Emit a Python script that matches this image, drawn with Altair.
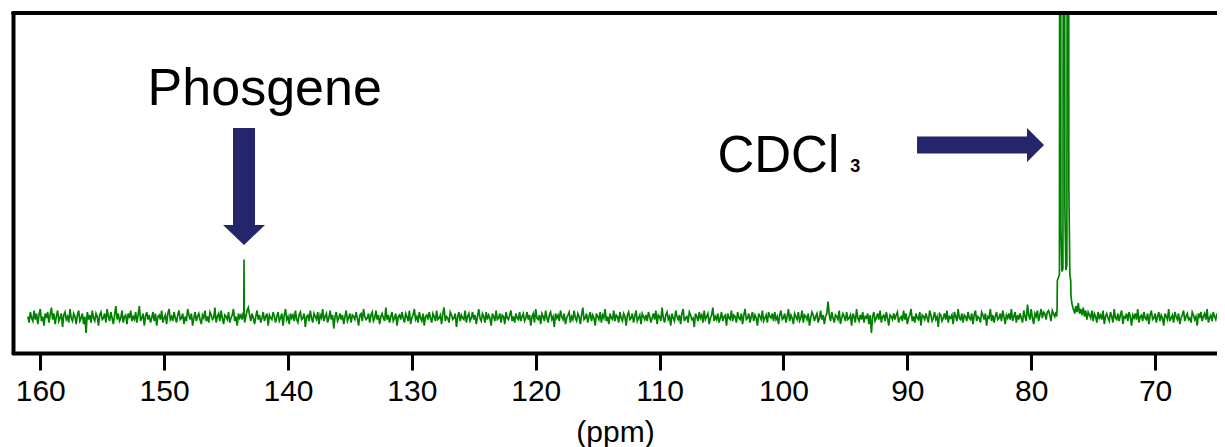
import altair as alt
import pandas as pd

# ---- data (ppm, intensity in baseline-relative units) ----
STEP = 0.1
n161 = [1, -3, 4, 0, -2, 5, -1, 3, -4, 2, 6, -2, 1, -5, 3, 0, 4, -3, 2, 7,
        -1, 3, -4, 1, 5, -2, 0, 3, -6, 2, 4, -1, 1, -3, 6, 0, -2, 3, 1, -4,
        2, 5, -2, 0, 3, -4, 1, -10, 4, -1, 2, -3, 5, 0, -2, 3, 1, -5, 2, 4,
        -1, 0, 3, -3, 6, 1, -2, 4, 0, -4, 2, 8, -1, 3, -2, 0, 5, -3, 1, 2,
        -4, 3, 0, 5, -2, 1, -1, 4, -3, 2, 8, -2, 0, 3, -5, 1, 4, -1, 2, -3]
n151 = [0, 4, -2, 3, -5, 1, 2, -1, 5, -3, 0, 2, -4, 3, 6, -1, 1, -2, 4, 0,
        -3, 2, 5, -1, 0, 3, -4, 1, -2, 6, 2, -1, 3, -5, 0, 4, -2, 1, 3, -1,
        -4, 2, 0, 5, -2, 1, -3, 4, 2, -1, 0, 7, -3, 1, 3, -2, 5, 0, -4, 2,
        1, -1, 4, -3, 0, 2, 6, -2, 1, -5, 3, 0, 2, -1, 4, -3, 1, 5, 7, 2,
        -2, 3, 0, -4, 1, 5, -1, 2, -3, 0, 4, -2, 1, 3, -5, 2, 0, -1, 4, 1]
n141 = [-3, 1, 4, -2, 0, 3, -5, 2, 6, -1, 1, -4, 3, 0, 2, -2, 5, -1, -3, 2,
        4, -1, 0, 3, -6, 1, 2, -2, 5, 0, -3, 3, 1, -1, 4, -4, 2, 0, 6, -2,
        1, 3, -3, 0, 5, -1, 2, -7, 1, 4, -2, 0, 3, -1, 2, -4, 1, 5, -2, 0,
        3, -3, 2, 1, -1, 4, 0, -5, 2, 3, -2, 6, 1, -1, 0, 3, -3, 2, 4, -2,
        0, 5, -1, 2, -4, 1, 3, 0, -2, 7, -1, 2, -3, 1, 4, -2, 0, 3, -5, 1]
n131 = [2, -1, 4, 0, -3, 3, 1, -2, 5, -4, 0, 2, 6, -1, 1, -3, 4, 0, -2, 3,
        -5, 1, 2, -1, 4, 0, -3, 3, 1, -2, 5, -1, 0, 2, -4, 3, 7, -2, 1, 0,
        -3, 4, 2, -1, 0, 3, -6, 1, 4, -2, 2, 0, -1, 5, -3, 1, 3, -2, 0, 4,
        -1, 2, -4, 1, 6, 0, -2, 3, 1, -3, 4, -1, 2, 0, -5, 3, 1, -2, 5, -1,
        0, 3, -3, 2, 1, -4, 4, 0, -1, 2, 5, -2, 1, -3, 3, 0, -1, 4, -2, 1]
n121 = [3, -2, 0, 4, -1, 2, -5, 1, 3, -3, 6, 0, -1, 2, -4, 3, 1, -2, 5, 0,
        -3, 2, 4, -1, 1, -6, 3, 0, 2, -2, 5, 1, -1, 3, -4, 0, 2, 4, -3, 1,
        -1, 5, 0, -2, 3, 1, -4, 2, 7, -1, 0, 3, -3, 1, 4, -2, 2, 0, -5, 3,
        1, -1, 4, -3, 2, 0, 6, -2, 1, -4, 3, 0, -1, 5, -2, 2, 1, -3, 4, 0,
        -2, 3, 1, -5, 2, 4, -1, 0, 3, -3, 1, 5, -2, 0, 2, -4, 3, 1, -1, 2]
n111 = [-2, 4, 1, -3, 0, 3, -1, 5, -4, 2, 1, -2, 7, 0, -3, 2, 4, -1, 1, -5,
        3, 0, -2, 5, 1, -1, 2, -4, 3, 6, -2, 0, 1, -3, 4, 2, -1, 0, -6, 3,
        1, -2, 4, 0, 2, -3, 5, -1, 1, 3, -4, 0, 2, 7, -2, 1, -1, 3, -3, 0,
        4, -2, 1, 2, -5, 3, 0, -1, 5, -2, 2, 1, -3, 4, 0, -1, 3, -4, 2, 6,
        -1, 0, 3, -3, 1, 4, -2, 2, 0, -5, 3, 1, -1, 5, -2, 0, 2, -3, 4, 1]
n101 = [0, 3, -2, 4, -1, 1, -4, 2, 5, -1, 0, 3, -3, 1, 6, -2, 2, 0, -4, 3,
        1, -1, 4, -2, 0, 5, -3, 2, 1, -1, 3, -5, 0, 4, 2, -2, 1, 3, -3, 0,
        5, -1, 2, -4, 1, 3, 11, 2, -2, 4, 0, -3, 2, 1, -1, 5, -4, 0, 3, 1,
        -2, 4, -1, 0, 2, -5, 3, 1, -3, 6, 0, -2, 2, -1, 4, -3, 1, 0, 3, -4,
        2, -10, 1, 4, -2, 0, 3, -1, 5, -3, 1, 2, -2, 4, 0, -5, 2, 1, -1, 3]
n91 = [-1, 2, 4, -3, 0, 1, -2, 5, -1, 3, -4, 0, 2, 6, -2, 1, -3, 3, 0, -1,
       4, -5, 2, 1, -1, 3, 0, -3, 5, 2, -2, 0, 4, -1, 1, -6, 3, 2, -2, 0,
       3, -1, 5, -3, 1, 0, 2, -4, 4, 1, -2, 6, 0, -1, 3, -3, 2, 1, -2, 4,
       0, -1, 3, -4, 2, 5, -2, 1, 0, -3, 4, 2, -1, 3, -5, 1, 0, 6, -2, 2,
       -3, 1, 4, -1, 0, 3, -2, 5, 1, -4, 2, 0, 3, -1, 6, -2, 1, 4, -3, 2]
n81 = [-1, 3, 0, -3, 5, 1, -2, 9, 2, -1, 6, 0, -4, 3, 1, 5, -2, 2, 6, 0,
       4, 3, -1, 4, 5, 2, -2, 5, 3, 1, 4]
n76 = [8, 4, 10, 3, 6, 2, 7, 1, 5, -1, 4, 2, 0, 5, -2, 3, 1, -3, 4, 0,
       2, -1, 5, -4, 1, 3, 0, -2, 4, 1, -3, 6, 0, -1, 3, -2, 2, 5, -4, 1,
       0, 3, -2, 4, 1, -5, 2, 0, 3, -1, 6, -3, 1, 2, -2, 4, 0, -1, 3, -4,
       2, 5, -1, 0, 3, -3, 1, 4, -2, 2, 0, -5, 3, 1, -1, 6, -2, 0, 2, -3,
       4, 1, -1, 3, -4, 0, 2, 5, -2, 1, 3, -1, 0, -3, 4, 2, -1, 1, -5, 3,
       0, 4, -2, 1, 3, -1, 6, -3, 0, 2, -2, 4, 1, -1, 3]
segment_starts = [161.0, 151.0, 141.0, 131.0, 121.0, 111.0, 101.0, 91.0, 81.0, 76.4]
segments = [n161, n151, n141, n131, n121, n111, n101, n91, n81, n76]

phos_ppm = [143.57, 143.55, 143.53]
phos_int = [2, 39, 1]

cdcl3_ppm = [77.94, 77.91, 77.89, 77.80, 77.72, 77.68, 77.66, 77.64, 77.60, 77.52, 77.44, 77.37, 77.35, 77.33,
             77.28, 77.20, 77.12, 77.05, 77.03, 77.01, 76.96, 76.88, 76.81, 76.79, 76.72, 76.64, 76.56, 76.48]
cdcl3_int = [1, 7, 25, 27, 29, 600, 280, 600, 60, 31, 33, 600, 200, 600,
             73, 32, 35, 600, 330, 600, 87, 29, 25, 15, 10, 7, 5, 3]

tick_values = [160, 150, 140, 130, 120, 110, 100, 90, 80, 70]

# ---- build the spectrum table ----
ppm, inten = [], []
for s, vals in zip(segment_starts, segments):
    for i, v in enumerate(vals):
        ppm.append(round(s - STEP * i, 3))
        inten.append(v)
ppm += phos_ppm + cdcl3_ppm
inten += phos_int + cdcl3_int
spec = pd.DataFrame({"ppm": ppm, "intensity": inten}).sort_values("ppm")

W, H = 1204, 340
X_DOMAIN = [65.0, 162.2]
Y_DOMAIN = [-23.3, 203.3]
FONT = "Liberation Sans"
GREEN = "#008000"
NAVY = "#25256b"

xs = alt.Scale(domain=X_DOMAIN, reverse=True, nice=False, zero=False)
ys = alt.Scale(domain=Y_DOMAIN, nice=False, zero=False)

line = alt.Chart(spec).mark_line(color=GREEN, strokeWidth=1.7, clip=True).encode(
    x=alt.X("ppm:Q", scale=xs, axis=alt.Axis(
        values=tick_values, format="d", title="(ppm)", grid=False,
        labelFont=FONT, titleFont=FONT, labelFontSize=30, titleFontSize=30,
        titleFontWeight="normal", labelColor="black", titleColor="black",
        domainColor="black", domainWidth=4, domainCap="round",
        tickColor="black", tickWidth=3, tickSize=17, labelPadding=6, titlePadding=11,
        labelFlush=False)),
    y=alt.Y("intensity:Q", scale=ys, axis=alt.Axis(
        labels=False, ticks=False, grid=False, title=None,
        domainColor="black", domainWidth=4, domainCap="round")),
)

# annotations (in data coordinates)
arrow_down = "M -0.188 -1 L 0.188 -1 L 0.188 0.658 L 0.359 0.658 L 0 1 L -0.359 0.658 L -0.188 0.658 Z"
arrow_right = "M -1 -0.134 L 0.732 -0.134 L 0.732 -0.268 L 1 0 L 0.732 0.268 L 0.732 0.134 L -1 0.134 Z"

a1 = alt.Chart(pd.DataFrame({"ppm": [143.55], "intensity": [87.7]})).mark_point(
    shape=arrow_down, size=13689, filled=True, color=NAVY, opacity=1, strokeWidth=0
).encode(x=alt.X("ppm:Q", scale=xs), y=alt.Y("intensity:Q", scale=ys))

a2 = alt.Chart(pd.DataFrame({"ppm": [84.09], "intensity": [115.3]})).mark_point(
    shape=arrow_right, size=16129, filled=True, color=NAVY, opacity=1, strokeWidth=0
).encode(x=alt.X("ppm:Q", scale=xs), y=alt.Y("intensity:Q", scale=ys))

t1 = alt.Chart(pd.DataFrame({"ppm": [141.88], "intensity": [142], "t": ["Phosgene"]})).mark_text(
    font=FONT, fontSize=52, align="center", baseline="alphabetic", color="black"
).encode(x=alt.X("ppm:Q", scale=xs), y=alt.Y("intensity:Q", scale=ys), text="t:N")

t2 = alt.Chart(pd.DataFrame({"ppm": [105.33], "intensity": [97.3], "t": ["CDCl"]})).mark_text(
    font=FONT, fontSize=51, align="left", baseline="alphabetic", color="black"
).encode(x=alt.X("ppm:Q", scale=xs), y=alt.Y("intensity:Q", scale=ys), text="t:N")

t3 = alt.Chart(pd.DataFrame({"ppm": [94.6], "intensity": [97.3], "t": ["3"]})).mark_text(
    font=FONT, fontSize=18, fontWeight="bold", align="left", baseline="alphabetic", color="black"
).encode(x=alt.X("ppm:Q", scale=xs), y=alt.Y("intensity:Q", scale=ys), text="t:N")

top = alt.Chart(pd.DataFrame({"k": [0]})).mark_rule(
    color="black", strokeWidth=4, strokeCap="round"
).encode(x=alt.value(0), x2=alt.value(W), y=alt.value(0))

chart = alt.layer(line, a1, a2, t1, t2, t3, top).properties(
    width=W, height=H,
    autosize=alt.AutoSizeParams(type="none"),
    padding={"left": 5, "top": 5, "right": 0, "bottom": 94},
).configure_view(stroke=None).configure(font=FONT, background="white")

chart.save("out.html", embed_options={"renderer": "svg", "actions": False})
